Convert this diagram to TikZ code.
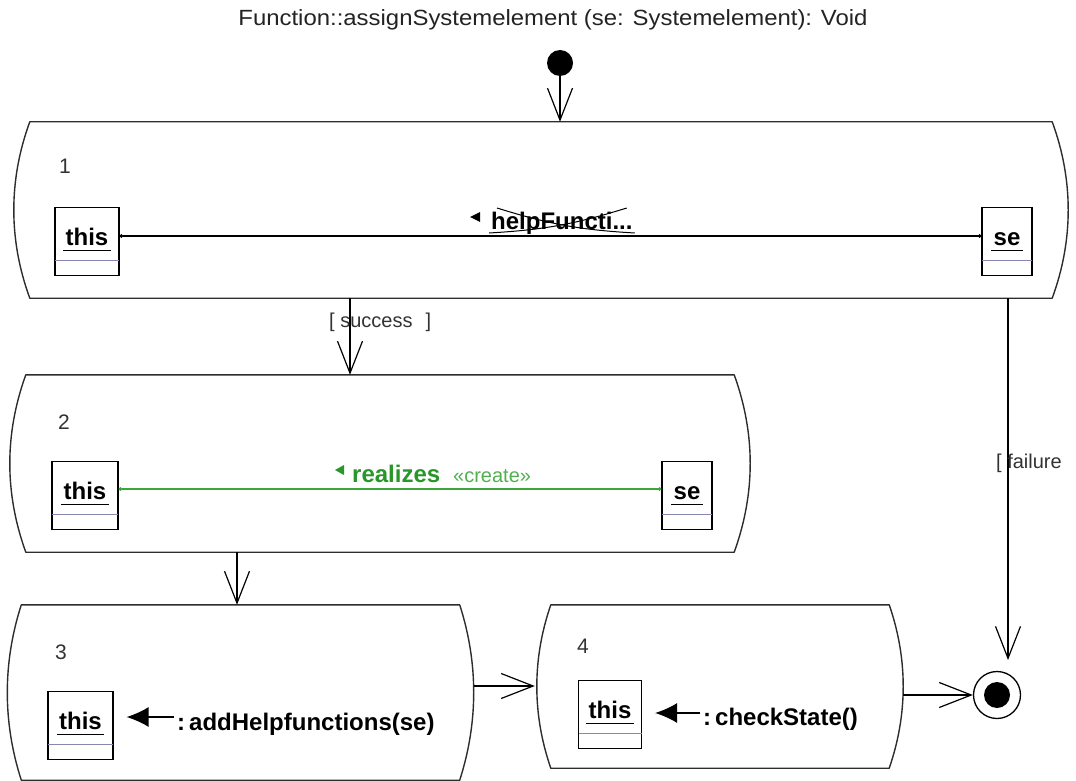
\documentclass[tikz,border=0pt]{standalone}
\usepackage{fontspec}
\setmainfont{Liberation Sans}
\usetikzlibrary{arrows.meta,calc}
\definecolor{outline}{RGB}{45,45,45}
\definecolor{sepblue}{RGB}{135,135,175}
\definecolor{linkgreen}{RGB}{60,165,60}
\definecolor{labelgreen}{RGB}{40,150,40}
\definecolor{stereogreen}{RGB}{80,175,80}
\definecolor{titlegray}{RGB}{35,35,35}
\definecolor{numgray}{RGB}{50,50,50}

\newcommand\objnode[5]{%
  \node[objbox, minimum width=#4pt, anchor=north] (#1) at (#2,#3) {};
  \node[objname] (#1-name) at ($(#1.north)+(0,38)$) {#5};
  \draw[line width=1.8pt] ($(#1-name.base west)+(-1,5.5)$) -- ($(#1-name.base east)+(1,5.5)$);
  \draw[sepblue, line width=1.3pt] ($(#1.south west)+(0.6,-16)$) -- ($(#1.south east)+(-0.6,-16)$);
}
% outline of an activity: #1 node, #2 bulge, #3 one third of the height
\newcommand\actoutline[3]{%
  \draw[actline] ($(#1.north west)+(#2,0)$) -- ($(#1.north east)+(-#2,0)$)
    .. controls ($(#1.north east)+(#2/3,#3)$) and ($(#1.south east)+(#2/3,-#3)$) .. ($(#1.south east)+(-#2,0)$)
    -- ($(#1.south west)+(#2,0)$)
    .. controls ($(#1.south west)+(-#2/3,-#3)$) and ($(#1.north west)+(-#2/3,#3)$) .. cycle;
}

\begin{document}
\begin{tikzpicture}[x=1pt,y=-1pt,
  activity/.style={draw=none, rectangle, inner sep=0pt},
  actline/.style={draw=outline, line width=1.4pt, line join=round},
  objbox/.style={draw=black, line width=1.2pt, minimum height=68pt, inner sep=0pt},
  objname/.style={font=\fontsize{24}{28}\selectfont\bfseries, inner xsep=1pt, inner ysep=0pt, anchor=base},
  num/.style={font=\fontsize{21}{24}\selectfont, text=numgray, inner sep=0pt},
  flow/.style={draw=black, line width=1.2pt, -{Straight Barb[length=32pt,width=25pt]}},
  guard/.style={font=\fontsize{20}{24}\selectfont, text=numgray, inner sep=0pt},
  link/.style={draw=black, line width=1.2pt, {Circle[length=3.5pt]}-{Circle[length=3.5pt]}},
  glink/.style={draw=linkgreen, line width=1.2pt, {Circle[length=3.5pt]}-{Circle[length=3.5pt]}},
  msgtext/.style={font=\fontsize{24}{28}\selectfont\bfseries, inner sep=0pt, anchor=base west},
  msg/.style={draw=black, line width=1.3pt, -{Latex[length=22pt,width=20pt]}}
]
\useasboundingbox (0,0) rectangle (1076,781);

% title
\node[font=\fontsize{22}{26}\selectfont, text=titlegray, inner sep=0pt] (title) at (553,20)
  {\scalebox{1.087}[1]{Function::assignSystemelement (se: Systemelement): Void}};

% start and end
\node[circle, fill=black, minimum size=26pt, inner sep=0pt] (start) at (560,63) {};
\node[circle, draw=black, line width=1.3pt, minimum size=47pt, inner sep=0pt] (end) at (997,695) {};
\node[circle, fill=black, minimum size=26pt, inner sep=0pt] (endin) at (end.center) {};

% activities
\node[activity, minimum width=1054pt, minimum height=176pt] (a1) at (541,210) {};
\node[activity, minimum width=740pt, minimum height=177pt] (a2) at (380,463.5) {};
\node[activity, minimum width=466pt, minimum height=175pt] (a3) at (240.5,692.5) {};
\node[activity, minimum width=366pt, minimum height=163pt] (a4) at (720,686.5) {};
\actoutline{a1}{16}{58}
\actoutline{a2}{16}{59}
\actoutline{a3}{14}{58}
\actoutline{a4}{14}{54}

% step numbers
\node[num] (n1) at (65,166) {1};
\node[num] (n2) at (64,422) {2};
\node[num] (n3) at (61,652) {3};
\node[num] (n4) at (583,646) {4};

% objects in activity 1
\objnode{this1}{87}{207}{64}{this}
\objnode{se1}{1007}{207}{50}{se}
\draw[link] ($(this1.north east)+(0,29)$) -- ($(se1.north west)+(0,29)$);
\node[font=\fontsize{24}{28}\selectfont\bfseries, inner sep=0pt, anchor=base west] (l1) at (491,229) {helpFuncti...};
\fill ($(l1.base west)+(-21,-12)$) -- ++(10,-5) -- ++(0,10) -- cycle;
\draw[line width=1pt] ($(l1.base west)+(-2,4)$) to[bend right=7] ($(l1.base east)+(-6,-21)$);
\draw[line width=1pt] ($(l1.base west)+(6,-21)$) to[bend right=7] ($(l1.base east)+(2,4)$);

% objects in activity 2
\objnode{this2}{85}{461}{66}{this}
\objnode{se2}{687}{461}{50}{se}
\draw[glink] ($(this2.north east)+(0,28)$) -- ($(se2.north west)+(0,28)$);
\node[font=\fontsize{24}{28}\selectfont\bfseries, text=labelgreen, inner sep=0pt, anchor=base west] (l2) at (352,482) {realizes};
\node[font=\fontsize{20}{24}\selectfont, text=stereogreen, inner sep=0pt, anchor=base west] (l2s) at (453,482) {«create»};
\fill[labelgreen] ($(l2.base west)+(-17,-12)$) -- ++(9,-5) -- ++(0,10) -- cycle;

% object in activity 3
\objnode{this3}{80.5}{691}{65}{this}
\node[msgtext] (m3) at (177,730) {:\,addHelpfunctions(se)};
\coordinate (m3a) at ($(m3.base west)+(-3,-13)$);
\draw[msg, shorten >=13pt] (m3a) -- (m3a -| this3.east);

% object in activity 4
\objnode{this4}{610}{680}{63}{this}
\node[msgtext] (m4) at (703,725) {:\,checkState()};
\coordinate (m4a) at ($(m4.base west)+(-3,-12)$);
\draw[msg, shorten >=13pt] (m4a) -- (m4a -| this4.east);

% flows
\coordinate (p1) at (350,0);
\coordinate (p2) at (237,0);
\coordinate (p3) at (0,686);
\coordinate (pf) at (1008,0);
\coordinate (failtip) at (1008,660);
\draw[flow] (start) -- (start |- a1.north);
\draw[flow] (a1.south -| p1) -- (a2.north -| p1);
\draw[flow] (a2.south -| p2) -- (a3.north -| p2);
\draw[flow] (a3.east |- p3) -- ($(a4.west |- p3)+(-2,0)$);
\draw[flow] (a4.east |- end) -- (end.west);
\draw[flow] (a1.south -| pf) -- (failtip);

% guards
\node[guard, anchor=west] (g1) at (329,322) {[ success\hspace{13pt}]};
\node[guard, anchor=west] (g2) at (996,463) {[ failure};
\end{tikzpicture}
\end{document}
